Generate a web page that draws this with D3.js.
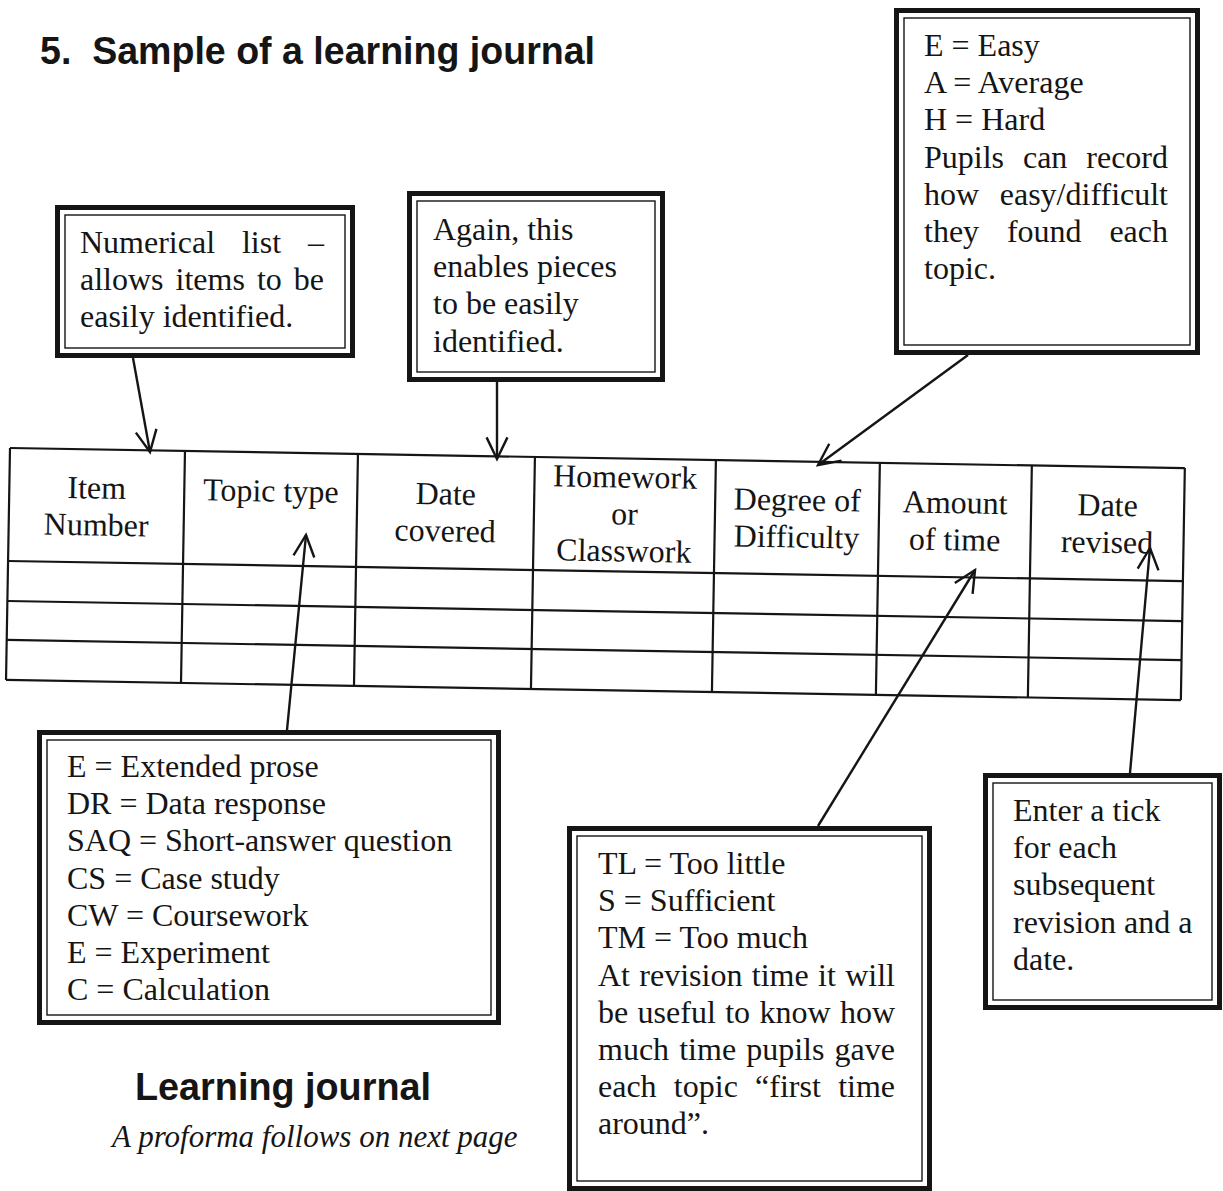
<!DOCTYPE html>
<html><head><meta charset="utf-8">
<script src="https://cdn.jsdelivr.net/npm/d3@7"></script>
<style>html,body{margin:0;padding:0;background:#fff;} svg{display:block}</style>
</head><body><svg id="c" width="1223" height="1191"></svg>
<script>
// ---------- content ----------
const titleText = "5.  Sample of a learning journal";
const headerLabels = [["Item","Number"],["Topic type"],["Date","covered"],["Homework","or","Classwork"],["Degree of","Difficulty"],["Amount","of time"],["Date","revised"]];
const blankRows = ["row 1","row 2","row 3"];
const noteNumbering = ["Numerical list –","allows items to be","easily identified."];
const noteAgain = ["Again, this","enables pieces","to be easily","identified."];
const noteDifficulty = ["E = Easy","A = Average","H = Hard","Pupils can record","how easy/difficult","they found each","topic."];
const noteTopicType = ["E = Extended prose","DR = Data response","SAQ = Short-answer question","CS = Case study","CW = Coursework","E = Experiment","C = Calculation"];
const noteTime = ["TL = Too little","S = Sufficient","TM = Too much","At revision time it will","be useful to know how","much time pupils gave","each topic “first time","around”."];
const noteRevised = ["Enter a tick","for each","subsequent","revision and a","date."];
const captionTitle = "Learning journal";
const captionSub = "A proforma follows on next page";

// ---------- layout ----------
const INK = "#151515";
const SERIF = "'Liberation Serif','Times New Roman',serif";
const SANS = "'Liberation Sans',Arial,sans-serif";
const svg = d3.select("#c");
svg.append("rect").attr("width",1223).attr("height",1191).attr("fill","#fff");

// Table (scanned slightly rotated)
const tableOrigin = {x:10, y:448, angle:0.98};
const colEdges = [0,175,348,525,706,870,1022,1175];
const rowEdges = [0,113,153,192,232];
const xs = d3.scaleLinear().domain(d3.range(colEdges.length)).range(colEdges);
const ys = d3.scaleLinear().domain(d3.range(blankRows.length + 2)).range(rowEdges);
const tg = svg.append("g").attr("transform",`translate(${tableOrigin.x},${tableOrigin.y}) rotate(${tableOrigin.angle})`);
const nCols = headerLabels.length;
tg.selectAll("line.h").data(d3.range(blankRows.length + 2)).join("line")
  .attr("x1",xs(0)).attr("x2",xs(nCols)).attr("y1",d=>ys(d)).attr("y2",d=>ys(d))
  .attr("stroke",INK).attr("stroke-width",2.2);
tg.selectAll("line.v").data(d3.range(nCols + 1)).join("line")
  .attr("y1",ys(0)).attr("y2",ys(blankRows.length + 1)).attr("x1",d=>xs(d)).attr("x2",d=>xs(d))
  .attr("stroke",INK).attr("stroke-width",2.2);
headerLabels.forEach((lines,i)=>{
  const cx = (xs(i)+xs(i+1))/2;
  const start = lines.length === 3 ? 29 : 49;
  lines.forEach((t,k)=>{
    tg.append("text").attr("x",cx).attr("y",start + k*37)
      .attr("text-anchor","middle").attr("font-family",SERIF).attr("font-size",32)
      .attr("fill",INK).text(t);
  });
});

// Note boxes
const boxes = [
 {lines: noteNumbering, x:55,y:205,w:300,h:153, tx:80, ty:253, right:324, justify:[0,1]},
 {lines: noteAgain, x:407,y:191,w:258,h:191, tx:433, ty:240, justify:[]},
 {lines: noteDifficulty, x:894,y:8,w:306,h:347, tx:924, ty:56, right:1168, justify:[3,4,5]},
 {lines: noteTopicType, x:37,y:730,w:464,h:295, tx:67, ty:777, justify:[]},
 {lines: noteTime, x:567,y:826,w:365,h:365, tx:598, ty:874, right:895, justify:[3,4,5,6]},
 {lines: noteRevised, x:983,y:773,w:239,h:237, tx:1013, ty:821, justify:[]}
];
const LH = 37.2;
boxes.forEach(b=>{
  const g = svg.append("g");
  g.append("rect").attr("x",b.x+2.5).attr("y",b.y+2.5).attr("width",b.w-5).attr("height",b.h-5)
    .attr("fill","#fff").attr("stroke",INK).attr("stroke-width",5);
  g.append("rect").attr("x",b.x+10).attr("y",b.y+10).attr("width",b.w-20).attr("height",b.h-20)
    .attr("fill","none").attr("stroke",INK).attr("stroke-width",1.4);
  b.lines.forEach((t,k)=>{
    const yb = b.ty + k*LH;
    if (b.justify.includes(k)) {
      const words = t.split(" ");
      const nodes = words.map(w=>g.append("text").attr("y",yb).attr("font-family",SERIF)
        .attr("font-size",32).attr("fill",INK).text(w));
      const widths = nodes.map(n=>n.node().getComputedTextLength());
      const gap = (b.right - b.tx - d3.sum(widths)) / (words.length - 1);
      let cx = b.tx;
      nodes.forEach((n,i)=>{ n.attr("x",cx); cx += widths[i] + gap; });
    } else {
      g.append("text").attr("x",b.tx).attr("y",yb).attr("font-family",SERIF)
        .attr("font-size",32).attr("fill",INK).style("white-space","pre").text(t);
    }
  });
});

// Arrows (open V heads)
const arrows = [
 {from:[133,358], to:[150,452]},
 {from:[497,382], to:[497,459]},
 {from:[968,355], to:[818,465]},
 {from:[287,730], to:[306,535]},
 {from:[818,826], to:[975,570]},
 {from:[1130,773], to:[1150,548]}
];
arrows.forEach(a=>{
  const [x1,y1]=a.from,[x2,y2]=a.to;
  const ang = Math.atan2(y2-y1,x2-x1);
  const L = 24, spread = 0.45;
  const p1=[x2-L*Math.cos(ang-spread), y2-L*Math.sin(ang-spread)];
  const p2=[x2-L*Math.cos(ang+spread), y2-L*Math.sin(ang+spread)];
  const line = d3.line();
  svg.append("path").attr("d",line([a.from,a.to])).attr("stroke",INK).attr("stroke-width",2.4).attr("fill","none");
  svg.append("path").attr("d",line([p1,a.to,p2])).attr("stroke",INK).attr("stroke-width",2.4)
    .attr("fill","none").attr("stroke-linejoin","miter");
});

// Titles
svg.append("text").attr("x",40).attr("y",64).attr("font-family",SANS).attr("font-weight","bold")
  .attr("font-size",39).attr("textLength",555).attr("lengthAdjust","spacingAndGlyphs")
  .style("white-space","pre").attr("fill",INK).text(titleText);
svg.append("text").attr("x",135).attr("y",1100).attr("font-family",SANS).attr("font-weight","bold")
  .attr("font-size",38).attr("textLength",296).attr("lengthAdjust","spacingAndGlyphs")
  .attr("fill",INK).text(captionTitle);
svg.append("text").attr("x",112).attr("y",1147).attr("font-family",SERIF).attr("font-style","italic")
  .attr("font-size",31).attr("fill",INK).text(captionSub);
</script></body></html>
